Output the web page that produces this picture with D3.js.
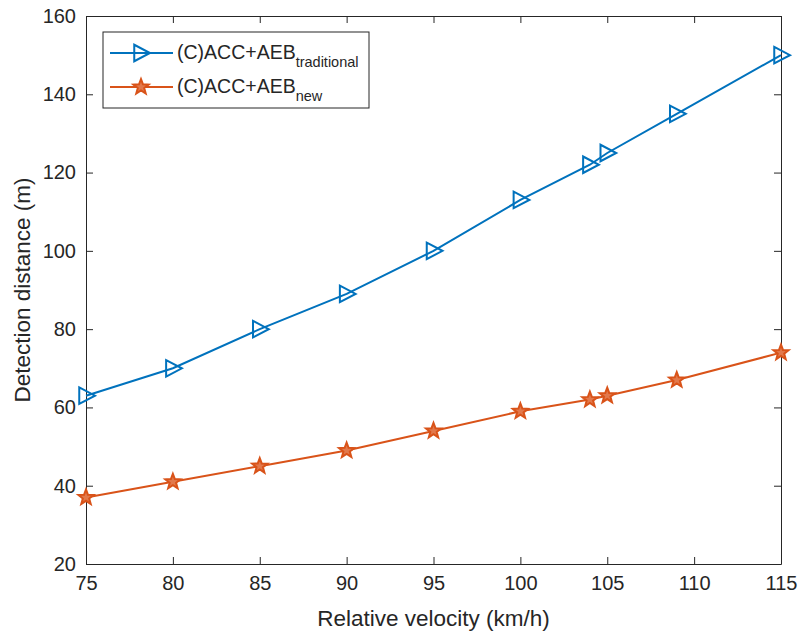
<!DOCTYPE html>
<html>
<head>
<meta charset="utf-8">
<script src="https://cdn.jsdelivr.net/npm/d3@7"></script>
<style>
  body { margin: 0; background: #fff; }
  text { font-family: "Liberation Sans", Arial, Helvetica, sans-serif; fill: #262626; }
</style>
</head>
<body>
<div id="chart"></div>
<script>
// chart data
var velocity = [75, 80, 85, 90, 95, 100, 104, 105, 109, 115];
var traditional = [63, 70, 80, 89, 100, 113, 122, 125, 135, 150];
var newMethod = [37, 41, 45, 49, 54, 59, 62, 63, 67, 74];
var xTicks = [75, 80, 85, 90, 95, 100, 105, 110, 115];
var yTicks = [20, 40, 60, 80, 100, 120, 140, 160];

var w = 800, h = 635;
var plotLeft = 86, plotRight = 781, plotTop = 16, plotBottom = 564;

var svg = d3.select("#chart").append("svg")
    .attr("width", w)
    .attr("height", h);

var x = d3.scaleLinear().domain([75, 115]).range([plotLeft, plotRight]);
var y = d3.scaleLinear().domain([20, 160]).range([plotBottom, plotTop]);

var axisColor = "#262626";
var tickLen = 7;

// axes box with inward ticks
var bottomAxis = svg.append("g")
    .attr("transform", "translate(0," + plotBottom + ")")
    .call(d3.axisBottom(x).tickValues(xTicks).tickSizeInner(-tickLen).tickSizeOuter(0).tickPadding(12));
var topAxis = svg.append("g")
    .attr("transform", "translate(0," + plotTop + ")")
    .call(d3.axisTop(x).tickValues(xTicks).tickSizeInner(-tickLen).tickSizeOuter(0).tickFormat(""));
var leftAxis = svg.append("g")
    .attr("transform", "translate(" + plotLeft + ",0)")
    .call(d3.axisLeft(y).tickValues(yTicks).tickSizeInner(-tickLen).tickSizeOuter(0).tickPadding(10));
var rightAxis = svg.append("g")
    .attr("transform", "translate(" + plotRight + ",0)")
    .call(d3.axisRight(y).tickValues(yTicks).tickSizeInner(-tickLen).tickSizeOuter(0).tickFormat(""));

[bottomAxis, topAxis, leftAxis, rightAxis].forEach(function(g) {
    g.select(".domain").attr("stroke", axisColor).attr("stroke-width", 1);
    g.selectAll(".tick line").attr("stroke", axisColor);
    g.selectAll(".tick text")
        .attr("font-size", "20px")
        .attr("fill", axisColor)
        .style("font-family", "'Liberation Sans', Arial, sans-serif");
});

// axis labels
svg.append("text")
    .attr("x", (plotLeft + plotRight) / 2)
    .attr("y", 626)
    .attr("text-anchor", "middle")
    .attr("font-size", "22.5px")
    .text("Relative velocity (km/h)");

svg.append("text")
    .attr("transform", "translate(30," + ((plotTop + plotBottom) / 2) + ") rotate(-90)")
    .attr("text-anchor", "middle")
    .attr("font-size", "22.5px")
    .text("Detection distance (m)");

var blue = "#0072BD";
var orange = "#D95319";

var line = d3.line()
    .x(function(d) { return x(d[0]); })
    .y(function(d) { return y(d[1]); });

function pairs(vals) {
    return velocity.map(function(v, i) { return [v, vals[i]]; });
}

// triangle pointing right, centred on 0,0
function triPath(s) {
    return "M" + (-s * 0.45) + "," + (-s * 0.55) + "L" + (s * 0.6) + ",0L" + (-s * 0.45) + "," + (s * 0.55) + "Z";
}

// five point star
function starPath(r) {
    var pts = [];
    for (var i = 0; i < 10; i++) {
        var rr = i % 2 === 0 ? r : r * 0.42;
        var a = -Math.PI / 2 + i * Math.PI / 5;
        pts.push([rr * Math.cos(a), rr * Math.sin(a)]);
    }
    return "M" + pts.map(function(p) { return p[0].toFixed(2) + "," + p[1].toFixed(2); }).join("L") + "Z";
}

svg.append("path")
    .datum(pairs(traditional))
    .attr("fill", "none")
    .attr("stroke", blue)
    .attr("stroke-width", 2)
    .attr("d", line);

svg.selectAll(".tri")
    .data(pairs(traditional))
    .enter()
    .append("path")
    .attr("class", "tri")
    .attr("transform", function(d) { return "translate(" + x(d[0]) + "," + y(d[1]) + ")"; })
    .attr("d", triPath(15))
    .attr("fill", "none")
    .attr("stroke", blue)
    .attr("stroke-width", 2);

svg.append("path")
    .datum(pairs(newMethod))
    .attr("fill", "none")
    .attr("stroke", orange)
    .attr("stroke-width", 2)
    .attr("d", line);

svg.selectAll(".star")
    .data(pairs(newMethod))
    .enter()
    .append("path")
    .attr("class", "star")
    .attr("transform", function(d) { return "translate(" + x(d[0]) + "," + y(d[1]) + ")"; })
    .attr("d", starPath(8))
    .attr("fill", "#e2794c")
    .attr("stroke", orange)
    .attr("stroke-width", 2);

// legend
var legend = svg.append("g");
legend.append("rect")
    .attr("x", 103).attr("y", 32)
    .attr("width", 266).attr("height", 76)
    .attr("fill", "#fff")
    .attr("stroke", axisColor)
    .attr("stroke-width", 1);

var legendItems = [
    { color: blue, sub: "traditional", y: 53, marker: "tri" },
    { color: orange, sub: "new", y: 87, marker: "star" }
];

legendItems.forEach(function(d) {
    legend.append("line")
        .attr("x1", 110).attr("x2", 173)
        .attr("y1", d.y).attr("y2", d.y)
        .attr("stroke", d.color)
        .attr("stroke-width", 2);
    legend.append("path")
        .attr("transform", "translate(141," + d.y + ")")
        .attr("d", d.marker === "tri" ? triPath(15) : starPath(8))
        .attr("fill", d.marker === "tri" ? "none" : "#e2794c")
        .attr("stroke", d.color)
        .attr("stroke-width", 2);
    var t = legend.append("text")
        .attr("x", 177)
        .attr("y", d.y + 6)
        .attr("font-size", "19.5px");
    t.append("tspan").text("(C)ACC+AEB");
    t.append("tspan")
        .attr("dy", 7.5)
        .attr("font-size", "14.5px")
        .text(d.sub);
});
</script>
</body>
</html>
